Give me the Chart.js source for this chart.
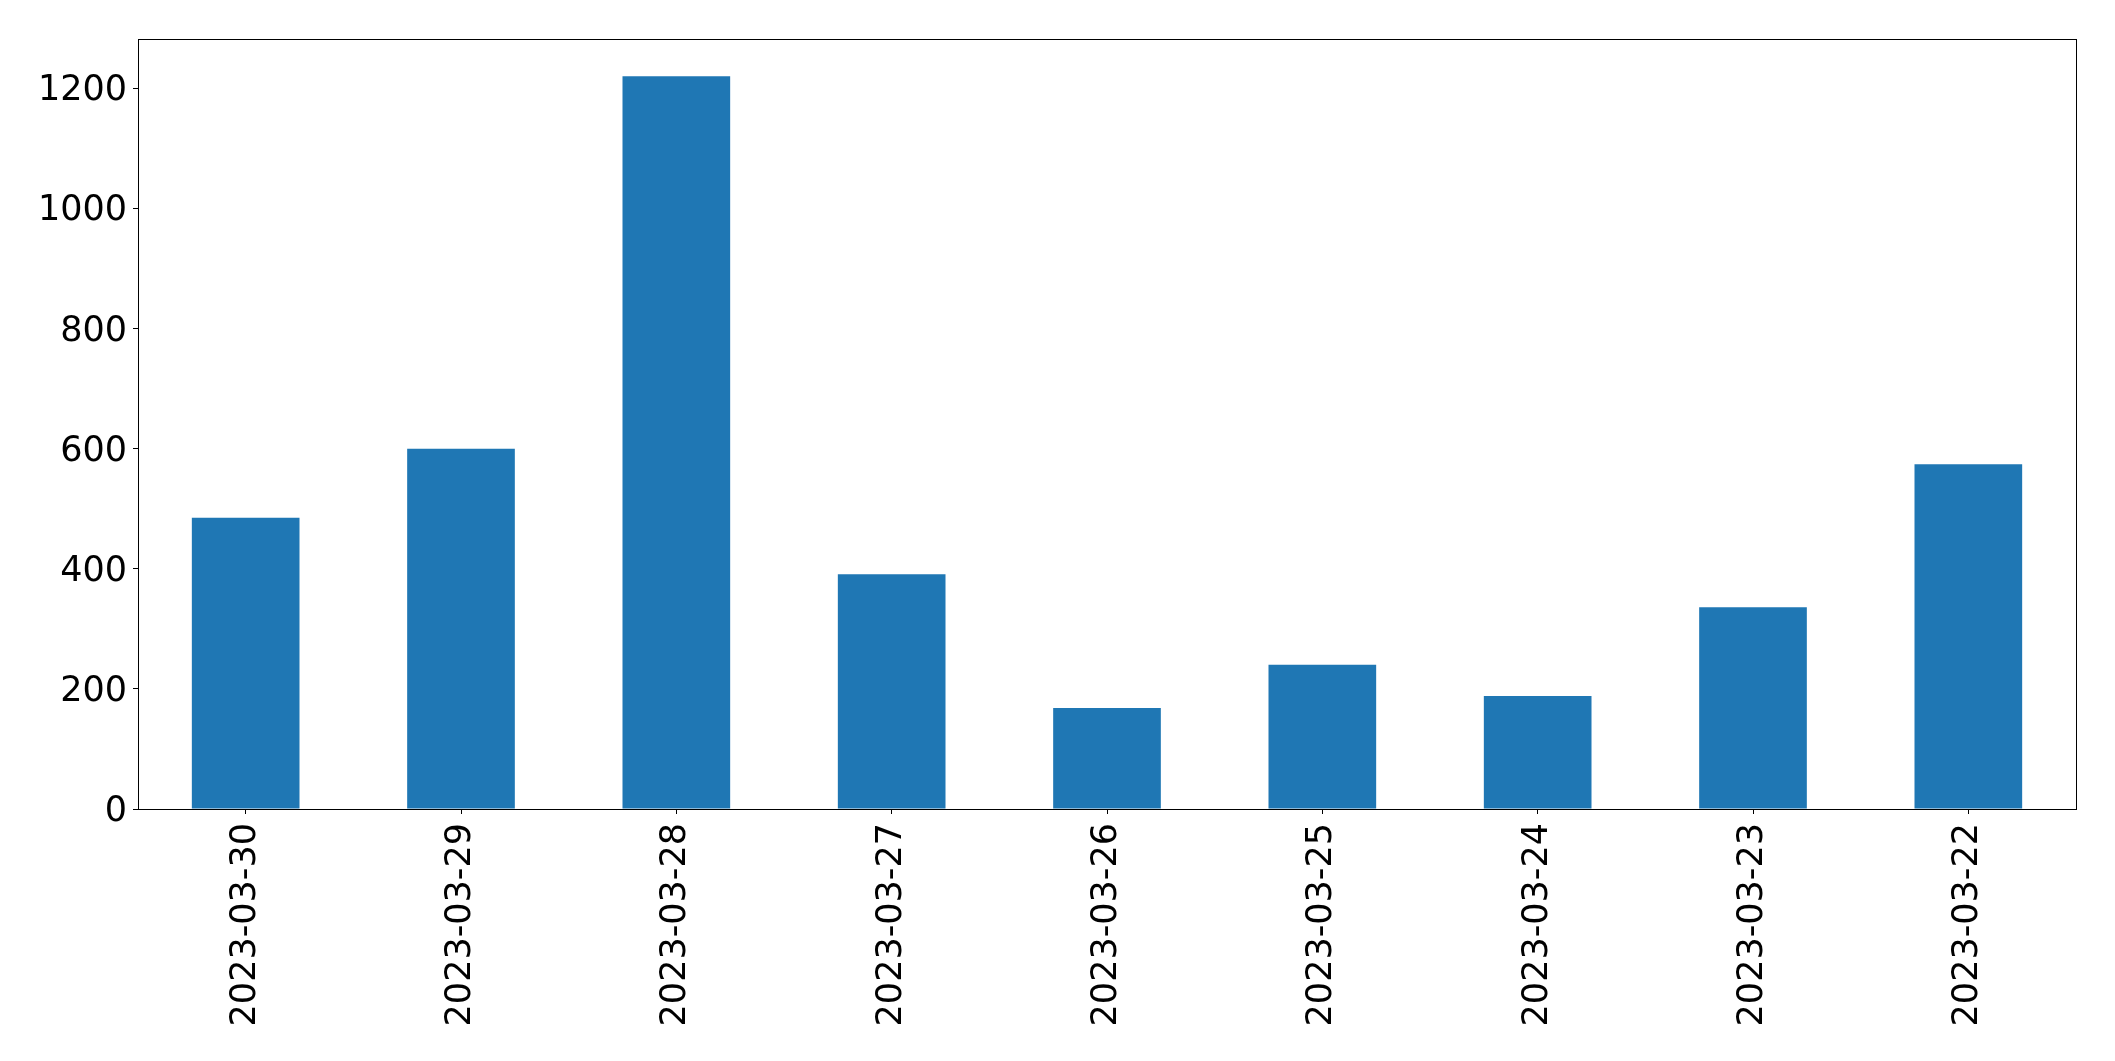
<!DOCTYPE html>
<html>
<head>
<meta charset="utf-8">
<script src="https://cdn.jsdelivr.net/npm/chart.js@4/dist/chart.umd.min.js"></script>
<style>
  html, body { margin: 0; padding: 0; background: #fff; }
  #wrap { width: 2115px; height: 1061px; }
</style>
</head>
<body>
<div id="wrap"><canvas id="barChart"></canvas></div>
<script>
const dates = ["2023-03-30","2023-03-29","2023-03-28","2023-03-27","2023-03-26","2023-03-25","2023-03-24","2023-03-23","2023-03-22"];
const counts = [485, 600, 1220, 391, 168, 240, 188, 336, 574];
const yTicks = [0, 200, 400, 600, 800, 1000, 1200];
const yMax = 1282;

// box around the plot area, like matplotlib's spines
const frame = {
    id: "frame",
    afterDraw(chart) {
        const a = chart.chartArea;
        const c = chart.ctx;
        c.save();
        c.strokeStyle = "#000";
        c.lineWidth = 1;
        c.strokeRect(Math.round(a.left) + 0.5, Math.round(a.top) + 0.5,
                     Math.round(a.right - a.left), Math.round(a.bottom - a.top));
        c.restore();
    }
};

const ctx = document.getElementById("barChart").getContext("2d");

new Chart(ctx, {
    type: "bar",
    data: {
        labels: dates,
        datasets: [{
            data: counts,
            backgroundColor: "#1f77b4",
            borderWidth: 0,
            categoryPercentage: 1,
            barPercentage: 0.5
        }]
    },
    options: {
        responsive: true,
        maintainAspectRatio: false,
        animation: false,
        layout: { padding: { left: 0, top: 39, right: 39, bottom: 0 } },
        plugins: { legend: { display: false }, tooltip: { enabled: false } },
        scales: {
            x: {
                grid: { offset: false, drawOnChartArea: false, drawTicks: true, tickLength: 5, tickColor: "#000" },
                border: { color: "#000", width: 1 },
                ticks: {
                    color: "#000",
                    font: { family: "DejaVu Sans", size: 35 },
                    minRotation: 90, maxRotation: 90,
                    padding: 9,
                    autoSkip: false
                },
                afterFit(scale) { scale.height = 252; }
            },
            y: {
                min: 0,
                max: yMax,
                grid: { drawOnChartArea: false, drawTicks: true, tickLength: 5, tickColor: "#000" },
                border: { color: "#000", width: 1 },
                ticks: {
                    color: "#000",
                    font: { family: "DejaVu Sans", size: 35 },
                    padding: 6,
                    labelOffset: 3,
                    callback: v => String(v)
                },
                afterBuildTicks(scale) {
                    scale.ticks = yTicks.map(v => ({ value: v }));
                },
                afterFit(scale) { scale.width = 138; }
            }
        }
    },
    plugins: [frame]
});
</script>
</body>
</html>
